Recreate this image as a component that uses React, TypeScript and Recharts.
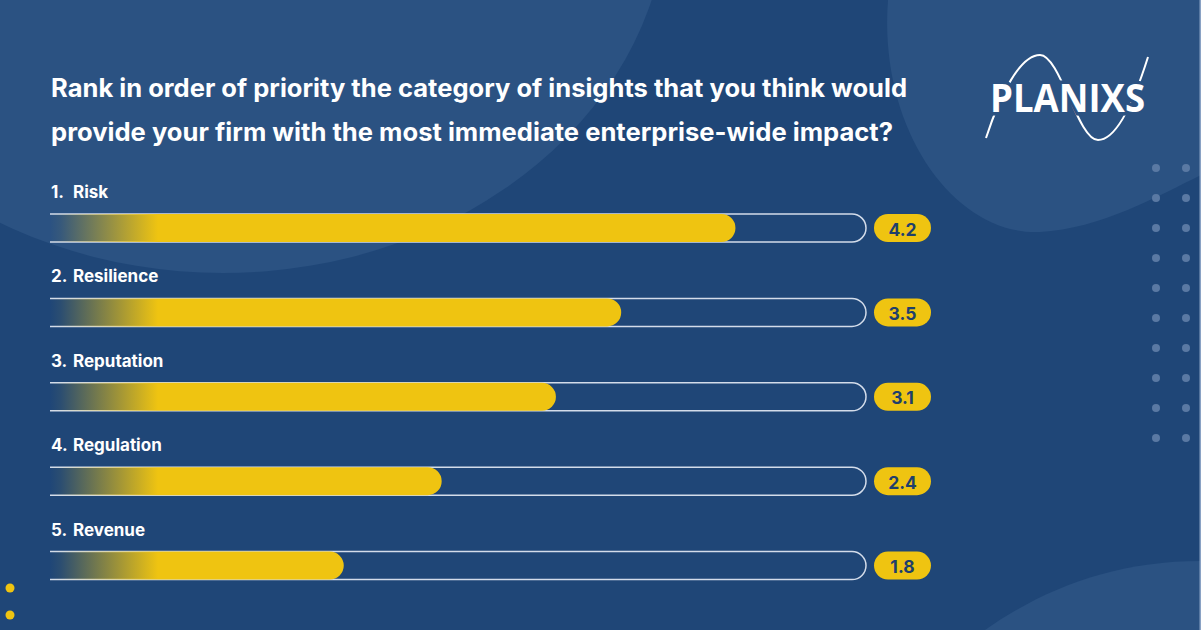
import React from 'react';
import { BarChart, Bar, XAxis, YAxis, LabelList } from 'recharts';

const ranks = ['1.', '2.', '3.', '4.', '5.'];
const categories = ['Risk', 'Resilience', 'Reputation', 'Regulation', 'Revenue'];
const scores = [4.2, 3.5, 3.1, 2.4, 1.8];
const titleLines = [
  'Rank in order of priority the category of insights that you think would',
  'provide your firm with the most immediate enterprise-wide impact?',
];
const titleWidths = [856, 842];

const chartData = categories.map((name, i) => ({ name, rank: ranks[i], score: scores[i] }));

const W = 1201;
const H = 630;
const margin = { top: 186, right: 335, bottom: 22, left: 50 };
const trackEnd = W - margin.right;

const BG = '#1f4677';
const BG_LIGHT = '#2b5282';
const YELLOW = '#efc411';
const FONT = 'Inter, "Noto Sans", sans-serif';

// white outlined track, square on the left, round on the right
const Track = (props: any) => {
  const { x, y, width, height } = props;
  const r = height / 2;
  return (
    <path
      d={`M${x},${y} L${x + width - r},${y} A${r},${r} 0 0 1 ${x + width - r},${y + height} L${x},${y + height}`}
      fill="none"
      stroke="#d3dcea"
      strokeWidth={1.5}
    />
  );
};

const CategoryLabel = (props: any) => {
  const { y, index } = props;
  return (
    <text y={y - 16} fill="#ffffff" fontFamily={FONT} fontWeight={700} fontSize={17}>
      <tspan x={51}>{ranks[index]}</tspan>
      <tspan x={73}>{categories[index]}</tspan>
    </text>
  );
};

const Badge = (props: any) => {
  const { y, height, value } = props;
  const bx = trackEnd + 8;
  return (
    <g>
      <rect x={bx} y={y} width={57} height={height} rx={height / 2} fill={YELLOW} />
      <text
        x={bx + 28.5}
        y={y + height / 2 + 1}
        textAnchor="middle"
        dominantBaseline="central"
        fill="#1f3f6b"
        fontFamily={FONT}
        fontWeight={700}
        fontSize={17.5}
      >
        {Number(value).toFixed(1)}
      </text>
    </g>
  );
};

const Decor = () => {
  const dots: React.ReactNode[] = [];
  for (let r = 0; r < 10; r++) {
    for (let c = 0; c < 2; c++) {
      dots.push(<circle key={`d${r}-${c}`} cx={1156 + c * 30} cy={168 + r * 30} r={4} fill="#5a79a3" />);
    }
  }
  return (
    <svg width={W} height={H} style={{ position: 'absolute', left: 0, top: 0 }}>
      <rect width={W} height={H} fill={BG} />
      <ellipse cx={223} cy={-100} rx={445} ry={373} fill={BG_LIGHT} />
      <path d="M888,0 C878,130 955,236 1040,232 C1100,229 1160,195 1201,175 L1201,0 Z" fill={BG_LIGHT} />
      <path d="M985,630 C1045,588 1115,561 1201,561 L1201,630 Z" fill={BG_LIGHT} />
      {dots}
      <circle cx={10} cy={588} r={4.5} fill={YELLOW} />
      <circle cx={10} cy={615} r={4.5} fill={YELLOW} />
      <rect x={W - 1.5} y={0} width={1.5} height={H} fill="#8aa2c4" />
      {titleLines.map((t, i) => (
        <text
          key={t}
          x={51}
          y={97 + i * 44}
          textLength={titleWidths[i]}
          lengthAdjust="spacingAndGlyphs"
          fill="#ffffff"
          fontFamily={FONT}
          fontWeight={700}
          fontSize={25}
        >
          {t}
        </text>
      ))}
      {/* logo */}
      <path
        d="M986,138 C1000,95 1020,55 1040,55 C1060,55 1078,140 1098,140 C1118,140 1136,95 1148,57"
        fill="none"
        stroke="#ffffff"
        strokeWidth={2}
      />
      <text
        x={990}
        y={112}
        textLength={155}
        lengthAdjust="spacingAndGlyphs"
        fill="#ffffff"
        stroke={BG_LIGHT}
        strokeWidth={7}
        paintOrder="stroke"
        fontFamily='"Open Sans", sans-serif'
        fontWeight={700}
        fontSize={39}
      >
        PLANIXS
      </text>
    </svg>
  );
};

export default function App() {
  return (
    <div style={{ position: 'fixed', left: 0, top: 0, width: W, height: H, overflow: 'hidden' }}>
      <Decor />
      <div style={{ position: 'absolute', left: 0, top: 0 }}>
        <BarChart width={W} height={H} data={chartData} layout="vertical" margin={margin}>
          <defs>
            <linearGradient id="barFade" gradientUnits="userSpaceOnUse" x1={50} y1={0} x2={158} y2={0}>
              <stop offset="0%" stopColor={YELLOW} stopOpacity={0} />
              <stop offset="10%" stopColor={YELLOW} stopOpacity={0.06} />
              <stop offset="100%" stopColor={YELLOW} stopOpacity={1} />
            </linearGradient>
          </defs>
          <XAxis type="number" domain={[0, 5]} hide />
          <YAxis type="category" dataKey="name" hide />
          <Bar
            dataKey="score"
            barSize={28}
            fill="url(#barFade)"
            radius={[0, 14, 14, 0]}
            background={Track}
            isAnimationActive={false}
          >
            <LabelList dataKey="name" content={CategoryLabel} />
            <LabelList dataKey="score" content={Badge} />
          </Bar>
        </BarChart>
      </div>
    </div>
  );
}
